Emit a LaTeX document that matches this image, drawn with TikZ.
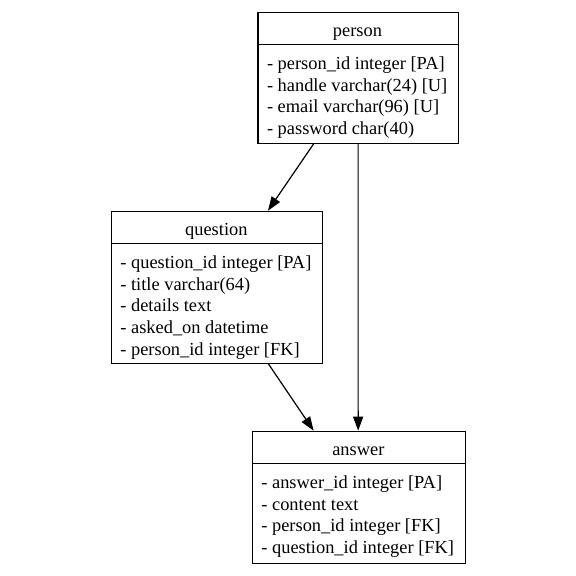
\documentclass[tikz,border=0pt]{standalone}
\usepackage{fontspec}
\setmainfont{Liberation Serif}
\usetikzlibrary{arrows.meta}

\tikzset{
    tablebox/.style={draw=black, line width=1.2pt, inner sep=0pt, anchor=north west},
    tablehead/.style={anchor=base, inner sep=0pt, font=\fontsize{18.4}{22}\selectfont},
    tablerow/.style={anchor=base west, inner sep=0pt, font=\fontsize{18.4}{22}\selectfont},
    fklink/.style={-{Triangle[length=14pt,width=10pt]}, line width=1.2pt}
}

\begin{document}
\begin{tikzpicture}[x=1pt, y=-1pt]
    \useasboundingbox (0,0) rectangle (576,576);

    % person table
    \node[tablebox, minimum width=200.4pt, minimum height=131pt] (person) at (257.3,11.7) {};
    \node[tablehead] (personhead) at (357.5,36) {person};
    \draw[line width=1.2pt] ([yshift=-32.5pt]person.north west) -- ([yshift=-32.5pt]person.north east);
    \foreach \t [count=\i] in {person\_id integer [PA], handle varchar(24) [U],
                               email varchar(96) [U], password char(40)} {
        \node[tablerow] (personrow\i) at (266.8, {44.2+25+21.8*(\i-1)}) {- \t};
    }

    % question table
    \node[tablebox, minimum width=211.3pt, minimum height=152pt] (question) at (110.7,210.7) {};
    \node[tablehead] (questionhead) at (216.35,235) {question};
    \draw[line width=1.2pt] ([yshift=-32.5pt]question.north west) -- ([yshift=-32.5pt]question.north east);
    \foreach \t [count=\i] in {question\_id integer [PA], title varchar(64), details text,
                               asked\_on datetime, person\_id integer [FK]} {
        \node[tablerow] (questionrow\i) at (120.2, {243.2+25+21.8*(\i-1)}) {- \t};
    }

    % answer table
    \node[tablebox, minimum width=213.3pt, minimum height=132pt] (answer) at (251.7,430.7) {};
    \node[tablehead] (answerhead) at (358.35,455) {answer};
    \draw[line width=1.2pt] ([yshift=-32.5pt]answer.north west) -- ([yshift=-32.5pt]answer.north east);
    \foreach \t [count=\i] in {answer\_id integer [PA], content text,
                               person\_id integer [FK], question\_id integer [FK]} {
        \node[tablerow] (answerrow\i) at (261.2, {463.2+25+21.8*(\i-1)}) {- \t};
    }

    % references
    \draw[fklink] ([xshift=-44.5pt]person.south) -- ([xshift=51pt]question.north);
    \draw[fklink] (person.south) -- ([xshift=-0.8pt]answer.north);
    \draw[fklink] ([xshift=51.5pt]question.south) -- ([xshift=-45.3pt]answer.north);
\end{tikzpicture}
\end{document}
